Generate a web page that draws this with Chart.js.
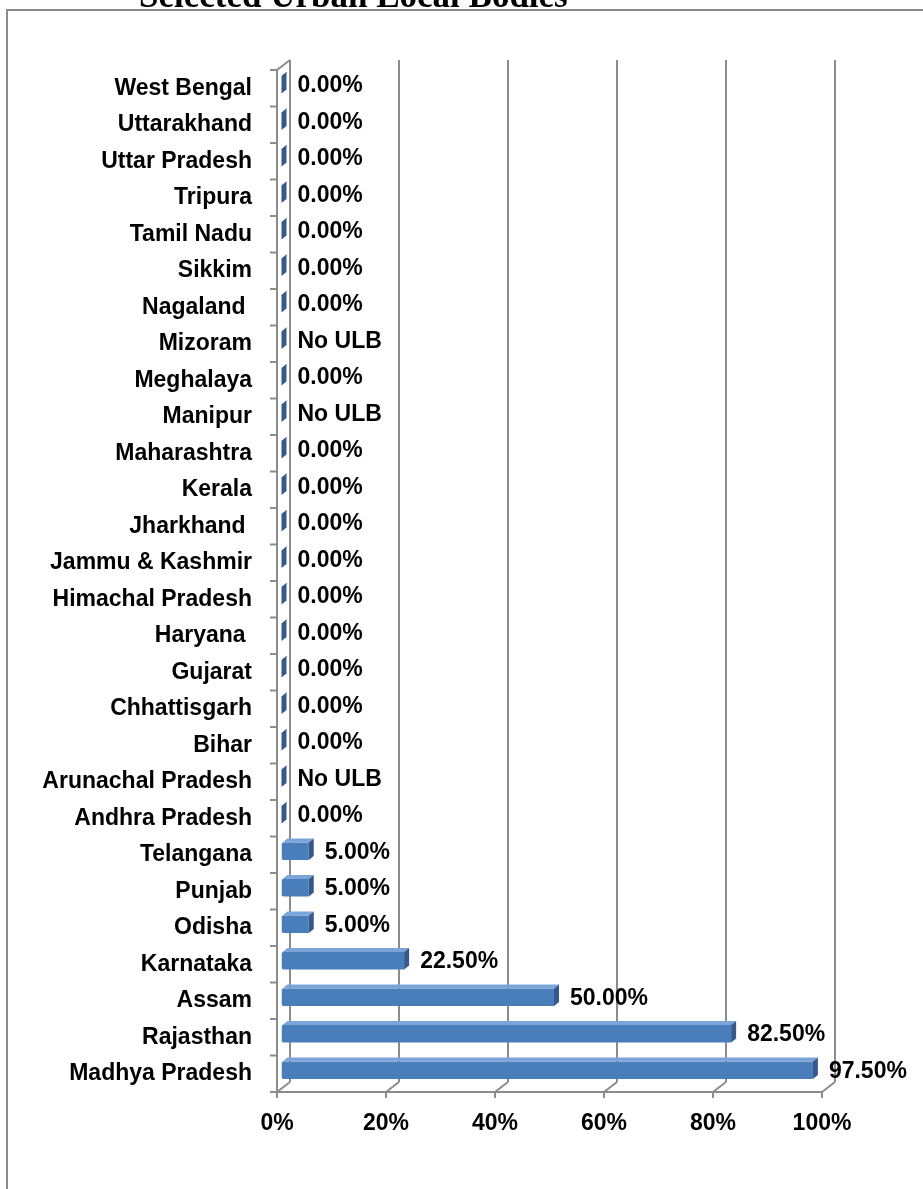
<!DOCTYPE html>
<html>
<head>
<meta charset="utf-8">
<script src="https://cdn.jsdelivr.net/npm/chart.js@4.4.1/dist/chart.umd.min.js"></script>
<style>
  html, body { margin: 0; padding: 0; background: #fff; overflow: hidden; }
  #wrap { position: relative; width: 923px; height: 1189px; overflow: hidden; }
  #title { position: absolute; left: 139px; top: -24px; line-height: 35px; font: bold 35px "Liberation Serif", "Times New Roman", serif; white-space: nowrap; color: #000; }
  #chart { position: absolute; left: 0; top: 0; }
</style>
</head>
<body>
<div id="wrap">
  <canvas id="chart" width="923" height="1189"></canvas>
  <div id="title">Selected Urban Local Bodies</div>
</div>
<script>
// states, top to bottom as listed on the axis
const states = [
  "West Bengal", "Uttarakhand", "Uttar Pradesh", "Tripura", "Tamil Nadu",
  "Sikkim", "Nagaland ", "Mizoram", "Meghalaya", "Manipur", "Maharashtra",
  "Kerala", "Jharkhand ", "Jammu & Kashmir", "Himachal Pradesh", "Haryana ",
  "Gujarat", "Chhattisgarh", "Bihar", "Arunachal Pradesh", "Andhra Pradesh",
  "Telangana", "Punjab", "Odisha", "Karnataka", "Assam", "Rajasthan",
  "Madhya Pradesh"
];
// share of selected ULBs (%)
const coverage = [
  0, 0, 0, 0, 0,
  0, 0, 0, 0, 0, 0,
  0, 0, 0, 0, 0,
  0, 0, 0, 0, 0,
  5, 5, 5, 22.5, 50, 82.5,
  97.5
];
// states without any urban local body
const noUlb = ["Mizoram", "Manipur", "Arunachal Pradesh"];
const xTicks = [0, 20, 40, 60, 80, 100];

const font = { family: "'Liberation Sans', Arial, sans-serif", size: 23, weight: "bold" };
const gridColor = "#8c8c8c";

// 3d look: wall depth, bar position inside the depth, bar thickness
const wall = { dx: 13, dy: -10 };
const barShift = { dx: 4.5, dy: -3.5 };
const barDepth = { dx: 5, dy: -4 };

const line = (ctx, x1, y1, x2, y2) => {
  ctx.beginPath();
  ctx.moveTo(x1, y1);
  ctx.lineTo(x2, y2);
  ctx.stroke();
};

const fillPoly = (ctx, pts, color) => {
  ctx.beginPath();
  ctx.moveTo(pts[0][0], pts[0][1]);
  pts.slice(1).forEach((p) => ctx.lineTo(p[0], p[1]));
  ctx.closePath();
  ctx.fillStyle = color;
  ctx.fill();
};

const frame3d = {
  id: "frame3d",
  beforeDraw(chart) {
    const ctx = chart.ctx;
    ctx.save();
    ctx.strokeStyle = "#8a8a8a";
    ctx.lineWidth = 2;
    ctx.strokeRect(7, 10, 1000, 1400);
    ctx.restore();
  },
  beforeDatasetsDraw(chart) {
    const ctx = chart.ctx;
    const xs = chart.scales.x;
    const { left, right, top, bottom } = chart.chartArea;

    ctx.save();
    ctx.strokeStyle = gridColor;
    ctx.lineWidth = 2;

    // back wall gridlines, floor diagonals and ticks
    xTicks.forEach((v) => {
      const px = xs.getPixelForValue(v);
      line(ctx, px + wall.dx, top + wall.dy, px + wall.dx, bottom + wall.dy);
      line(ctx, px + wall.dx, bottom + wall.dy, px, bottom);
      line(ctx, px, bottom, px, bottom + 6);
    });

    // side wall and front floor edge
    line(ctx, left, top, left, bottom);
    line(ctx, left, top, left + wall.dx, top + wall.dy);
    line(ctx, left - 7, bottom, right, bottom);

    // category ticks on the side wall
    const band = (bottom - top) / states.length;
    for (let i = 0; i < states.length; i++) {
      const y = top + i * band;
      line(ctx, left - 7, y, left, y);
    }
    ctx.restore();

    ctx.save();
    ctx.translate(barShift.dx, barShift.dy);
  },
  afterDatasetsDraw(chart) {
    const ctx = chart.ctx;
    const bars = chart.getDatasetMeta(0).data;

    bars.forEach((bar) => {
      const { x, y, base, height } = bar.getProps(["x", "y", "base", "height"], true);
      const t = y - height / 2;
      const b = y + height / 2;
      fillPoly(ctx, [[base + 1, t], [x, t], [x + barDepth.dx, t + barDepth.dy], [base + 1 + barDepth.dx, t + barDepth.dy]], "#7ba4d8");
      fillPoly(ctx, [[x, t], [x, b], [x + barDepth.dx, b + barDepth.dy], [x + barDepth.dx, t + barDepth.dy]], "#34598a");
    });
    ctx.restore();

    // value labels
    ctx.save();
    ctx.font = `${font.weight} ${font.size}px ${font.family}`;
    ctx.fillStyle = "#000";
    ctx.textAlign = "left";
    ctx.textBaseline = "middle";
    bars.forEach((bar, i) => {
      const { x, y } = bar.getProps(["x", "y"], true);
      const text = noUlb.includes(states[i]) ? "No ULB" : coverage[i].toFixed(2) + "%";
      ctx.fillText(text, x + barShift.dx + 16, y + barShift.dy + 1);
    });
    ctx.restore();
  }
};

const ctx = document.getElementById("chart").getContext("2d");
new Chart(ctx, {
  type: "bar",
  data: {
    labels: states,
    datasets: [
      {
        data: coverage,
        backgroundColor: "#4a7ebb",
        borderWidth: 0,
        borderRadius: { topLeft: 2, bottomLeft: 2 },
        borderSkipped: false,
        barPercentage: 0.48,
        categoryPercentage: 1,
      },
    ],
  },
  options: {
    indexAxis: "y",
    responsive: false,
    animation: false,
    layout: { padding: { top: 70, right: 101, bottom: 37, left: 0 } },
    plugins: { legend: { display: false }, tooltip: { enabled: false } },
    scales: {
      x: {
        min: 0,
        max: 100,
        afterBuildTicks: (scale) => {
          scale.ticks = xTicks.map((v) => ({ value: v }));
        },
        afterFit: (scale) => {
          scale.height = 60;
        },
        grid: { display: false },
        border: { display: false },
        ticks: { callback: (v) => v + "%", font, color: "#000", padding: 10, maxRotation: 0 },
      },
      y: {
        afterFit: (scale) => {
          scale.width = 277;
        },
        grid: { display: false },
        border: { display: false },
        ticks: { font, color: "#000", padding: 17, autoSkip: false },
      },
    },
  },
  plugins: [frame3d],
});
</script>
</body>
</html>
